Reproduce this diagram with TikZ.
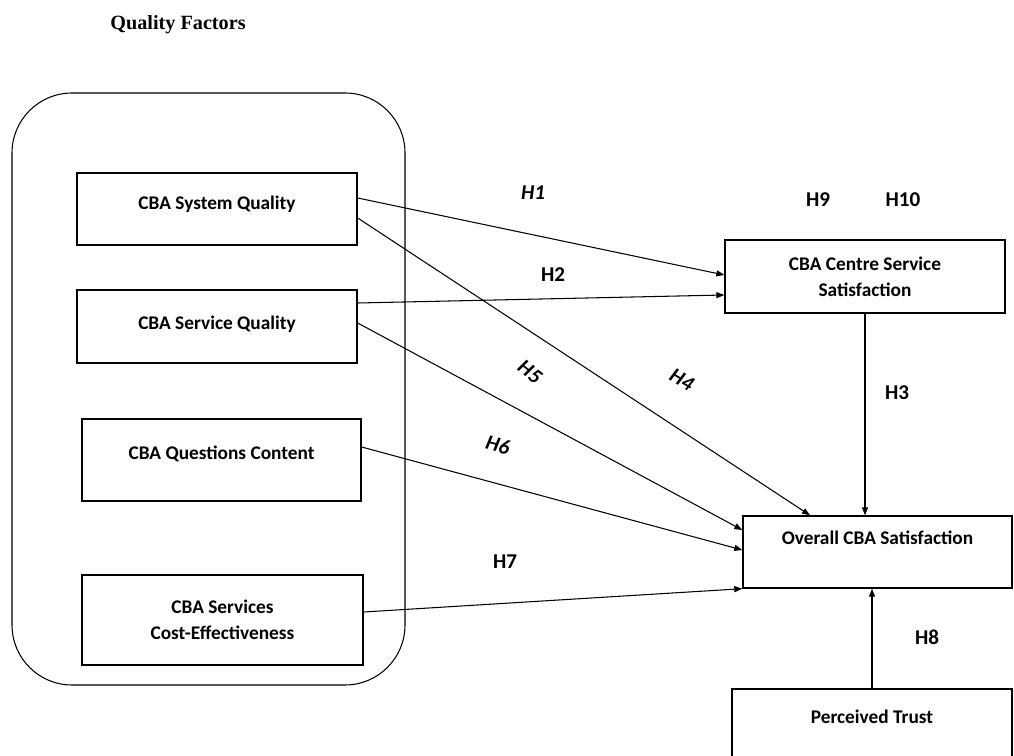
\documentclass[tikz,border=0pt]{standalone}
\usepackage{fontspec}
\setmainfont{Liberation Serif}
\newfontfamily\boxfont{Carlito}
\usetikzlibrary{arrows.meta,positioning}

\begin{document}
\begin{tikzpicture}[x=0.02cm, y=-0.02cm,
  factor/.style={draw, line width=0.8pt, inner sep=0pt, align=center,
                 font=\boxfont\bfseries\fontsize{11}{15}\selectfont},
  oneline/.style={text height=0.3cm, text depth=#1},
  hyp/.style={font=\boxfont\bfseries\fontsize{12}{14}\selectfont},
  hypit/.style={font=\boxfont\bfseries\itshape\fontsize{12}{14}\selectfont},
  arr/.style={-{Triangle[length=0.16cm, width=0.12cm]}, line width=0.6pt}
]
\useasboundingbox (0,0) rectangle (1014,756);

\node[font=\rmfamily\bfseries\fontsize{11.5}{14}\selectfont] (title) at (178,25) {Quality Factors};
\draw[line width=0.6pt, rounded corners=1.2cm] (12,93) rectangle (405,685);

% quality factors
\node[factor, oneline=0.29cm, minimum width=5.6cm, minimum height=1.44cm] (sysq) at (217,209) {CBA System Quality};
\node[factor, oneline=0.19cm, minimum width=5.6cm, minimum height=1.46cm] (servq) at (217,326.5) {CBA Service Quality};
\node[factor, oneline=0.33cm, minimum width=5.58cm, minimum height=1.64cm] (quest) at (221.5,460) {CBA Questions Content};
\node[factor, minimum width=5.62cm, minimum height=1.8cm] (cost) at (222.5,620) {CBA Services\\Cost-Effectiveness};

% outcomes
\node[factor, minimum width=5.6cm, minimum height=1.46cm] (centre) at (865,276.5) {CBA Centre Service\\Satisfaction};
\node[factor, oneline=0.61cm, minimum width=5.38cm, minimum height=1.44cm] (overall) at (877.5,552) {Overall CBA Satisfaction};
\node[factor, oneline=0.37cm, minimum width=5.6cm, minimum height=1.44cm] (trust) at (872,725) {Perceived Trust};

% hypotheses
\draw[arr] ([yshift=0.22cm]sysq.east) -- ([yshift=0.03cm]centre.west);
\draw[arr] ([yshift=0.47cm]servq.east) -- ([yshift=-0.37cm]centre.west);
\draw[arr] (centre.south) -- (centre.south |- overall.north);
\draw[arr] ([yshift=-0.18cm]sysq.east) -- ([xshift=-1.35cm]overall.north);
\draw[arr] ([yshift=0.07cm]servq.east) -- ([yshift=0.44cm]overall.west);
\draw[arr] ([yshift=0.26cm]quest.east) -- ([yshift=0.04cm]overall.west);
\draw[arr] ([yshift=0.16cm]cost.east) -- (overall.south west);
\draw[arr] (trust.north) -- (trust.north |- overall.south);

\node[hypit] (h1) at (533,193) {H1};
\node[hyp] (h2) at (553,275) {H2};
\node[hyp] (h3) at (897,393) {H3};
\node[hypit, rotate=-30] (h4) at (682,380) {H4};
\node[hypit, rotate=-38] (h5) at (530,372) {H5};
\node[hypit, rotate=-15] (h6) at (498,445) {H6};
\node[hyp] (h7) at (505,562) {H7};
\node[hyp] (h8) at (927,637) {H8};
\node[hyp] (h9) at (818,200) {H9};
\node[hyp] (h10) at (903,200) {H10};
\end{tikzpicture}
\end{document}
